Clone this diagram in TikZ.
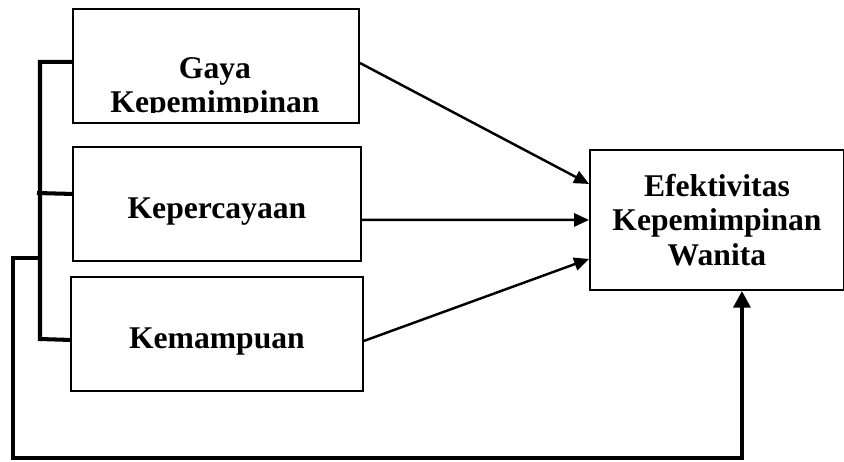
\documentclass[tikz,border=0pt]{standalone}
\usepackage{fontspec}
\setmainfont{Liberation Serif}
\usetikzlibrary{calc,arrows.meta}

\begin{document}
\begin{tikzpicture}[x=0.02cm, y=-0.02cm,
    kotak/.style={draw, line width=1.1pt, inner sep=0pt, anchor=north west, align=center,
      text height=21pt, text depth=4pt, font=\bfseries\fontsize{18}{19.5}\selectfont},
    panah/.style={line width=1.4pt, -{Triangle[length=8.5pt,width=7.5pt]}},
    tebal/.style={line width=2.3pt}]
          \useasboundingbox (0,0) rectangle (844,462);
          \node [kotak, minimum width=5.72cm, minimum height=2.28cm] (gaya) at (72,8) {};
          \begin{scope}
            \clip (72,8) rectangle (358,113);
            \node [anchor=north, inner sep=0pt, align=center, font=\bfseries\fontsize{18}{19.5}\selectfont] (gayateks) at (215,57) {Gaya\\Kepemimpinan};
          \end{scope}
          \node [kotak, minimum width=5.76cm, minimum height=2.28cm] (kep) at (72,146) {Kepercayaan};
          \node [kotak, minimum width=5.84cm, minimum height=2.28cm] (kem) at (70,276) {Kemampuan};
          \node [kotak, minimum width=5.08cm, minimum height=2.8cm, text height=, text depth=] (efek) at (589,149) {Efektivitas\\Kepemimpinan\\Wanita};

          \draw [panah] ($(gaya.east)+(0,-3)$) -- ($(efek.west)+(0,-36)$);
          \draw [panah] ($(kep.east)+(0,16)$) -- (efek.west);
          \draw [panah] ($(kem.east)+(0,7)$) -- ($(efek.west)+(0,39)$);

          \draw [tebal] ($(gaya.west)+(0,-4)$) -| (40,339) -- ($(kem.west)+(0,6)$);
          \draw [tebal] (37,193) -- ($(kep.west)+(0,-10)$);
          \coordinate (balik) at (40,258);
          \draw [tebal, -{Triangle[length=9.5pt,width=9.5pt]}] (balik) -| (13,458) -| ($(efek.south)+(25,0)$);
        \end{tikzpicture}
\end{document}
